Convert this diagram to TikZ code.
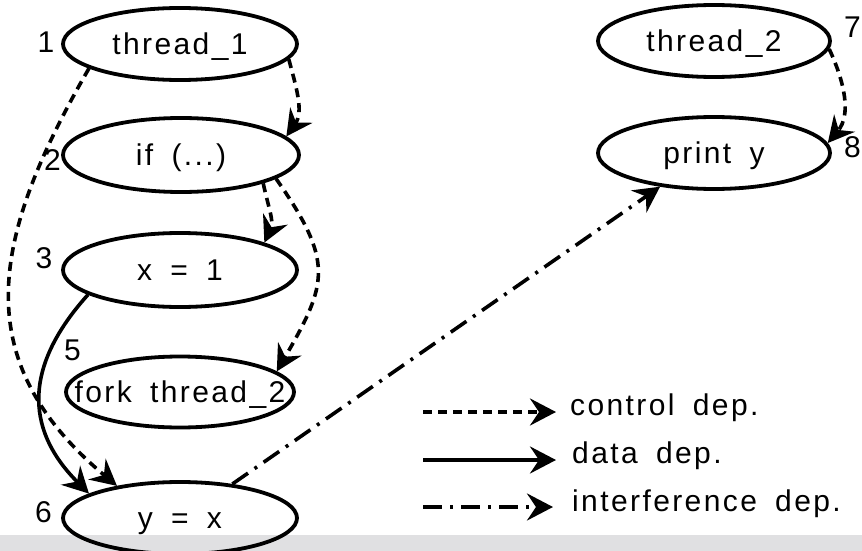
\documentclass[tikz,border=0pt]{standalone}
\usepackage{fontspec}
\setmainfont{Liberation Sans}[LetterSpace=8,WordSpace=1.7]
\usetikzlibrary{arrows.meta,shapes.geometric}
\definecolor{bandgray}{RGB}{224,224,226}

\begin{document}
\begin{tikzpicture}[x=1pt,y=1pt,
  ell/.style={ellipse, draw, line width=3.8pt, minimum width=234pt,
              minimum height=72pt, inner sep=0pt},
  txt/.style={font=\fontsize{30}{30}\selectfont, inner sep=0pt,
              text height=21.5pt, text depth=0pt},
  num/.style={font=\fontsize{30}{30}\selectfont, inner sep=0pt, anchor=base},
  leg/.style={font=\fontsize{30}{30}\selectfont, inner sep=0pt, anchor=base west},
  headtip/.style={-{Stealth[length=26pt,width=27pt,inset=9pt]}},
  ctrl/.style={headtip, line width=3.6pt, dash pattern=on 9pt off 6pt},
  dat/.style={headtip, line width=3.6pt},
  intf/.style={headtip, line width=3.6pt, dash pattern=on 19pt off 8pt on 3pt off 8pt},
]
% canvas and bottom strip
\fill[white] (0,0) rectangle (862,-551);
\useasboundingbox (0,0) rectangle (862,-551);
\fill[bandgray] (0,-535) rectangle (862,-551);

% thread 1 statements
\node[ell] (t1) at (180,-44) {};
\node[txt] (t1t) at (t1) {thread\_1};
\node[ell, minimum width=236pt, minimum height=74pt] (if) at (181,-155) {};
\node[txt] (ift) at (if) {if (...)};
\node[ell, minimum height=74pt] (x1) at (180,-270) {};
\node[txt] (x1t) at (x1) {x = 1};
\node[ell, minimum width=228pt, minimum height=71pt] (fork) at (180,-392) {};
\node[txt] (forkt) at (fork) {fork thread\_2};
\node[ell] (yx) at (180,-518) {};
\node[txt] (yxt) at (yx) {y = x};

% thread 2 statements
\node[ell, minimum width=232pt] (t2) at (714,-41) {};
\node[txt] (t2t) at (t2) {thread\_2};
\node[ell, minimum width=232pt] (py) at (714,-153) {};
\node[txt] (pyt) at (py) {print y};

% statement numbers
\node[num] (n1) at (46,-53) {1};
\node[num] (n2) at (52.5,-170) {2};
\node[num] (n3) at (44,-268) {3};
\node[num] (n5) at (72.5,-360) {5};
\node[num] (n6) at (43.5,-522) {6};
\node[num] (n7) at (852.5,-38) {7};
\node[num] (n8) at (852.5,-157) {8};

% dependences
\draw[ctrl] (t1.-8) to[out=-75,in=55] (if.10);
\draw[ctrl] (if.-19) to[out=-78,in=65] (x1.18);
\draw[ctrl] (if.-14) to[out=-55,in=60,looseness=1.35] (fork.12);
\draw[ctrl] (t1.195) to[out=-120,in=140,looseness=1.2] (yx.153);
\draw[dat] (x1.195) to[out=-132,in=135,looseness=1.2] (yx.165);
\draw[intf] (yx.33) -- (py.212);
\draw[ctrl] (t2.-4) to[out=-65,in=50] (py.5);

% legend
\coordinate (l1a) at (423,-412); \coordinate (l1b) at (556,-412);
\coordinate (l2a) at (423,-460); \coordinate (l2b) at (556,-460);
\coordinate (l3a) at (423,-507); \coordinate (l3b) at (553,-507);
\draw[ctrl] (l1a) -- (l1b);
\draw[dat] (l2a) -- (l2b);
\draw[intf] (l3a) -- (l3b);
\node[leg] (l1t) at (570,-415) {control dep.};
\node[leg] (l2t) at (572,-463) {data dep.};
\node[leg] (l3t) at (572,-511) {interference dep.};
\end{tikzpicture}
\end{document}
